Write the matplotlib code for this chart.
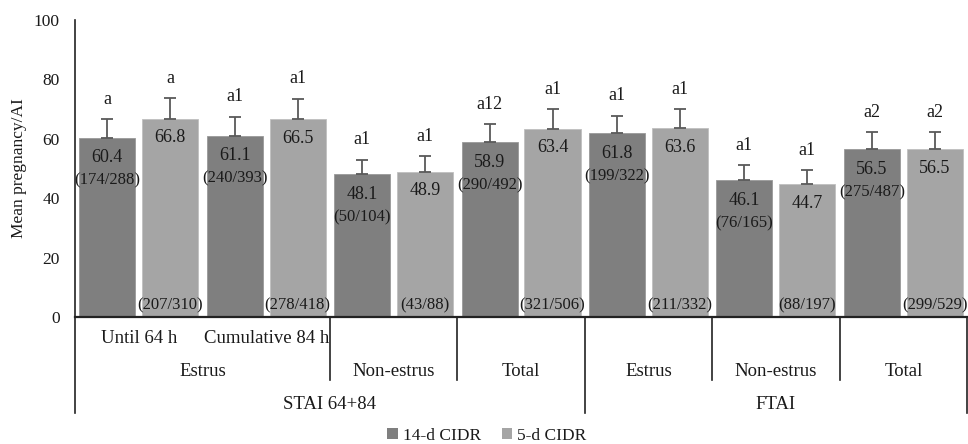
import matplotlib
matplotlib.use("Agg")
import matplotlib.pyplot as plt
from matplotlib.lines import Line2D
from matplotlib.patches import Patch
import matplotlib.transforms as mtransforms
import numpy as np

plt.rcParams['font.family'] = ['Liberation Serif', 'DejaVu Serif']

# Data
series_names = ["14-d CIDR", "5-d CIDR"]
cidr14 = [60.4, 61.1, 48.1, 58.9, 61.8, 46.1, 56.5]
cidr5 = [66.8, 66.5, 48.9, 63.4, 63.6, 44.7, 56.5]
err14 = [6.1, 6.3, 4.8, 6.0, 6.0, 5.0, 5.7]
err5 = [6.8, 7.0, 5.2, 6.5, 6.4, 4.7, 5.7]
letters14 = ["a", "a1", "a1", "a12", "a1", "a1", "a2"]
letters5 = ["a", "a1", "a1", "a1", "a1", "a1", "a2"]
counts14 = ["(174/288)", "(240/393)", "(50/104)", "(290/492)", "(199/322)", "(76/165)", "(275/487)"]
counts5 = ["(207/310)", "(278/418)", "(43/88)", "(321/506)", "(211/332)", "(88/197)", "(299/529)"]

sub_labels = ["Until 64 h", "Cumulative 84 h", "", "", "", "", ""]
mid_labels = [("Estrus", 0, 2), ("Non-estrus", 2, 3), ("Total", 3, 4),
              ("Estrus", 4, 5), ("Non-estrus", 5, 6), ("Total", 6, 7)]
top_labels = [("STAI 64+84", 0, 4), ("FTAI", 4, 7)]

ylabel = "Mean pregnancy/AI"
yticks = [0, 20, 40, 60, 80, 100]

c_dark = "#7f7f7f"
c_light = "#a5a5a5"
c_err = "#595959"
c_txt = "#1a1a1a"
fs_val = 13
fs_cnt = 12
fs_cat = 13.5
fs_tick = 12.5

fig = plt.figure(figsize=(9.68, 4.44), dpi=100)
ax = fig.add_axes([0.0775, 0.286, 0.9215, 0.669])

x = np.arange(len(cidr14))
off = 0.247
w = 0.44

ax.bar(x - off, cidr14, w, color=c_dark, edgecolor="#9a9a9a", linewidth=0.6, zorder=2)
ax.bar(x + off, cidr5, w, color=c_light, edgecolor="#c0c0c0", linewidth=0.6, zorder=2)
ax.errorbar(x - off, cidr14, yerr=[np.zeros(len(err14)), err14], fmt="none",
            ecolor=c_err, elinewidth=1.3, capsize=4, capthick=1.3, zorder=3)
ax.errorbar(x + off, cidr5, yerr=[np.zeros(len(err5)), err5], fmt="none",
            ecolor=c_err, elinewidth=1.3, capsize=4, capthick=1.3, zorder=3)

for xi, v, e, lt, cnt in zip(x - off, cidr14, err14, letters14, counts14):
    ax.annotate(lt, (xi, v + e), xytext=(0, 20), textcoords="offset pixels",
                ha="center", va="center", fontsize=fs_val, color=c_txt)
    ax.annotate(f"{v:.1f}", (xi, v), xytext=(0, -20), textcoords="offset pixels",
                ha="center", va="center", fontsize=fs_val, color=c_txt, zorder=4)
    ax.annotate(cnt, (xi, v), xytext=(0, -43), textcoords="offset pixels",
                ha="center", va="center", fontsize=fs_cnt, color=c_txt, zorder=4)

for xi, v, e, lt, cnt in zip(x + off, cidr5, err5, letters5, counts5):
    ax.annotate(lt, (xi, v + e), xytext=(0, 20), textcoords="offset pixels",
                ha="center", va="center", fontsize=fs_val, color=c_txt)
    ax.annotate(f"{v:.1f}", (xi, v), xytext=(0, -19), textcoords="offset pixels",
                ha="center", va="center", fontsize=fs_val, color=c_txt, zorder=4)
    ax.annotate(cnt, (xi, 0), xytext=(0, 12), textcoords="offset pixels",
                ha="center", va="center", fontsize=fs_cnt, color=c_txt, zorder=4)

ax.set_xlim(-0.5, len(x) - 0.5)
ax.set_ylim(0, 100)
ax.set_yticks(yticks)
ax.tick_params(axis="y", length=0, pad=11, labelsize=fs_tick, labelcolor=c_txt)
ax.set_xticks([])
for s in ("top", "right"):
    ax.spines[s].set_visible(False)
ax.spines["bottom"].set_linewidth(1.6)
ax.spines["bottom"].set_color("#222222")
ax.spines["left"].set_linewidth(1.2)
ax.spines["left"].set_color("#222222")
ax.set_ylabel(ylabel, fontsize=12.5, labelpad=5, color=c_txt)

# Hierarchical category axis
trans = mtransforms.blended_transform_factory(ax.transData, ax.transAxes)
row1, row2, row3 = -0.074, -0.185, -0.293
short_end, long_end = -0.212, -0.323

for xi, lab in zip(x, sub_labels):
    if lab:
        ax.text(xi, row1, lab, transform=trans, ha="center", va="center",
                fontsize=fs_cat, color=c_txt)
for lab, a, b in mid_labels:
    ax.text((a + b - 1) / 2, row2, lab, transform=trans, ha="center", va="center",
            fontsize=fs_cat, color=c_txt)
for lab, a, b in top_labels:
    ax.text((a + b - 1) / 2, row3, lab, transform=trans, ha="center", va="center",
            fontsize=fs_cat, color=c_txt)

major_bounds = sorted({a for _, a, _ in top_labels} | {b for _, _, b in top_labels})
mid_bounds = sorted({a for _, a, _ in mid_labels} | {b for _, _, b in mid_labels})
for bnd in mid_bounds:
    end = long_end if bnd in major_bounds else short_end
    ax.add_line(Line2D([bnd - 0.5, bnd - 0.5], [0, end], transform=trans,
                       color="#222222", lw=1.2, clip_on=False))

handles = [Patch(facecolor=c_dark, edgecolor="none"), Patch(facecolor=c_light, edgecolor="none")]
fig.legend(handles, series_names, loc="center", bbox_to_anchor=(0.503, 0.018), ncol=2,
           frameon=False, fontsize=12.5, handlelength=0.6, handleheight=0.6,
           handletextpad=0.3, columnspacing=1.2, labelcolor=c_txt)

fig.savefig("out.png", dpi=100)
